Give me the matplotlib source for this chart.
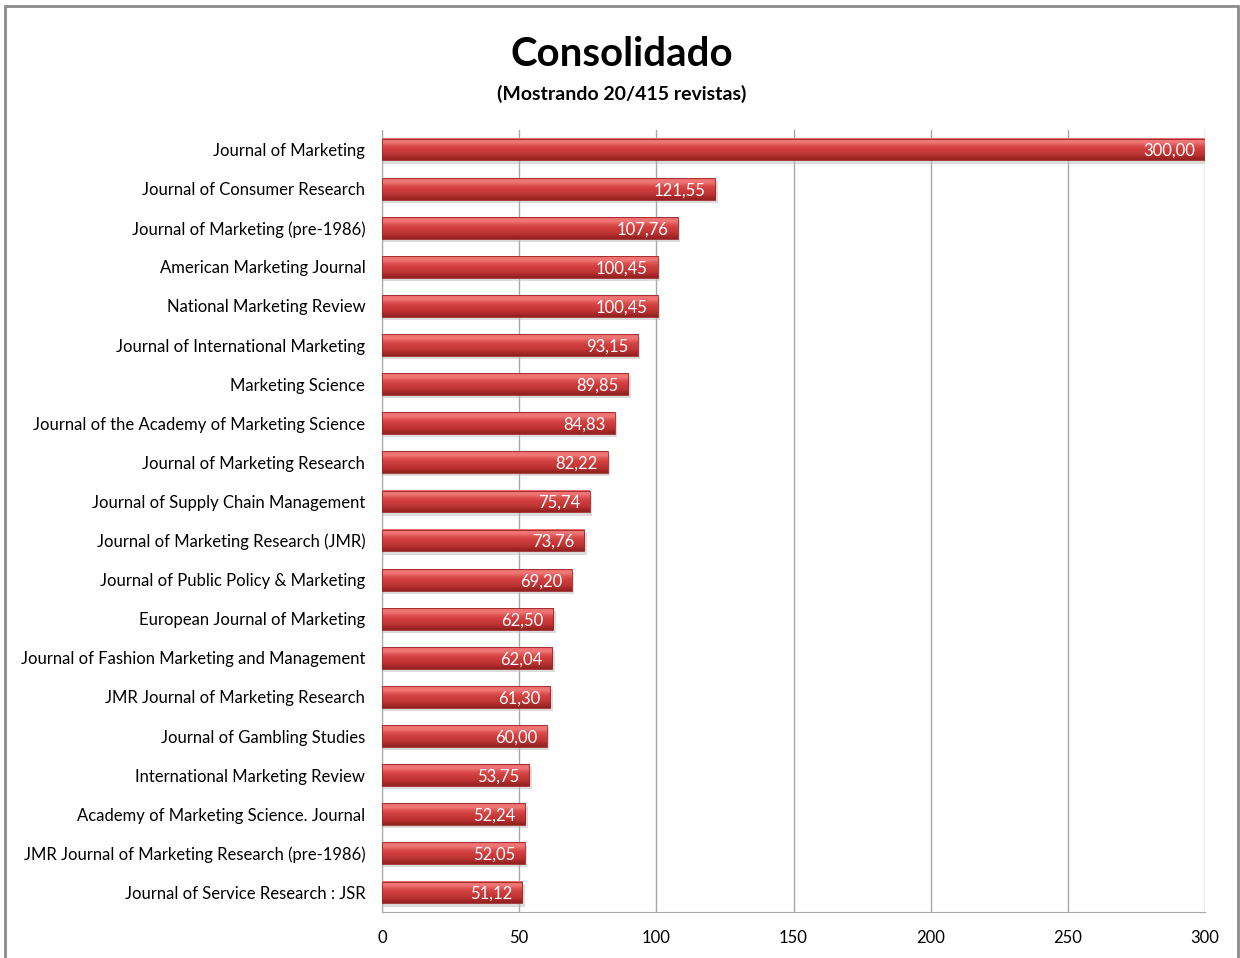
import matplotlib
matplotlib.use("Agg")
import matplotlib.pyplot as plt
import numpy as np
from matplotlib.patches import Rectangle

plt.rcParams['font.family'] = ['Lato', 'DejaVu Sans']

journals = [
    "Journal of Marketing",
    "Journal of Consumer Research",
    "Journal of Marketing (pre-1986)",
    "American Marketing Journal",
    "National Marketing Review",
    "Journal of International Marketing",
    "Marketing Science",
    "Journal of the Academy of Marketing Science",
    "Journal of Marketing Research",
    "Journal of Supply Chain Management",
    "Journal of Marketing Research (JMR)",
    "Journal of Public Policy & Marketing",
    "European Journal of Marketing",
    "Journal of Fashion Marketing and Management",
    "JMR Journal of Marketing Research",
    "Journal of Gambling Studies",
    "International Marketing Review",
    "Academy of Marketing Science. Journal",
    "JMR Journal of Marketing Research (pre-1986)",
    "Journal of Service Research : JSR",
]
values = [300.00, 121.55, 107.76, 100.45, 100.45, 93.15, 89.85, 84.83, 82.22, 75.74,
          73.76, 69.20, 62.50, 62.04, 61.30, 60.00, 53.75, 52.24, 52.05, 51.12]
xticks = [0, 50, 100, 150, 200, 250, 300]

W, H = 1240, 958
fig = plt.figure(figsize=(W / 100, H / 100), dpi=100)
fig.patches.append(Rectangle((5 / W, -0.01), (1238 - 5) / W, 1 - 6 / H + 0.01,
                             transform=fig.transFigure, fill=False,
                             edgecolor='#8c8c8c', linewidth=2))

ax = fig.add_axes([382 / W, 1 - 912 / H, (1205 - 382) / W, (912 - 130) / H])
n = len(journals)
ys = np.arange(n)
bh = 0.56

# vertical gradient colors for bars (top -> bottom)
grad = np.array([
    [0.93, 0.42, 0.42],
    [0.95, 0.50, 0.50],
    [0.88, 0.33, 0.33],
    [0.83, 0.26, 0.26],
    [0.80, 0.23, 0.23],
    [0.76, 0.21, 0.21],
    [0.70, 0.18, 0.18],
    [0.58, 0.13, 0.13],
])
img = grad.reshape(-1, 1, 3)

for y, v in zip(ys, values):
    # shadow
    ax.add_patch(Rectangle((0, y - bh / 2 + 0.08), v + 0.9, bh, facecolor='#b8b8b8',
                           edgecolor='none', alpha=0.5, zorder=2))
    ax.imshow(img, extent=(0, v, y + bh / 2, y - bh / 2), aspect='auto',
              interpolation='bicubic', zorder=3)
    ax.add_patch(Rectangle((0, y - bh / 2), v, bh, facecolor='none',
                           edgecolor='#9a2525', linewidth=0.6, zorder=4))
    ax.text(v - 3.5, y + 0.04, f"{v:.2f}".replace('.', ','), ha='right', va='center',
            color='white', fontsize=12, zorder=5)

ax.set_xlim(0, 300)
ax.set_ylim(n - 0.5, -0.5)
ax.set_xticks(xticks)
ax.set_xticklabels([str(t) for t in xticks], fontsize=12)
ax.set_yticks(ys)
ax.set_yticklabels(journals, fontsize=12)
ax.tick_params(axis='both', length=0, colors='#000000')
ax.tick_params(axis='x', pad=13)
ax.tick_params(axis='y', pad=12)
ax.grid(axis='x', color='#a8a8a8', linewidth=1, zorder=0)
ax.set_axisbelow(True)
for s in ['top', 'right']:
    ax.spines[s].set_visible(False)
ax.spines['left'].set_color('#a8a8a8')
ax.spines['bottom'].set_color('#a8a8a8')

fig.text(622 / W, 1 - 54 / H, "Consolidado", ha='center', va='center',
         fontsize=29, fontweight='bold')
fig.text(622 / W, 1 - 94 / H, "(Mostrando 20/415 revistas)", ha='center', va='center',
         fontsize=14, fontweight='bold')

fig.savefig("out.png", dpi=100)
